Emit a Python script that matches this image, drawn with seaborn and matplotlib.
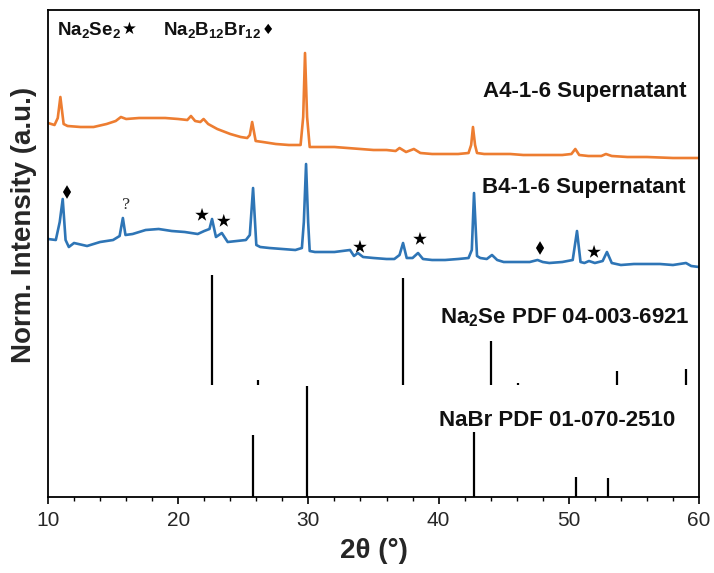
import numpy as np
import pandas as pd
import matplotlib
matplotlib.use("Agg")
import matplotlib.pyplot as plt
import seaborn as sns

# ---------------- data ----------------
# A4-1-6 Supernatant (orange), 2theta and intensity (a.u.)
a4_2theta = [10.0, 10.5, 10.75, 10.95, 11.2, 11.5, 12.5, 13.5, 14.5, 15.2, 15.6, 16.0,
             17.0, 18.0, 19.0, 20.0, 20.7, 20.98, 21.3, 21.7, 21.95, 22.3, 23.0, 24.0,
             24.8, 25.3, 25.5, 25.68, 25.95, 26.5, 27.5, 28.5, 29.4, 29.6, 29.74, 29.9,
             30.1, 31.0, 32.0, 33.0, 34.0, 35.0, 36.0, 36.7, 37.0, 37.5, 38.1, 38.6,
             39.5, 40.5, 41.5, 42.3, 42.5, 42.64, 42.8, 42.95, 43.5, 44.5, 45.5, 46.5,
             47.5, 48.5, 49.5, 50.2, 50.5, 50.8, 51.5, 52.5, 52.85, 53.3, 54.5, 56.0,
             58.0, 60.0]
a4_int = [374, 372, 379, 400, 373, 371, 370, 370, 373, 376, 380, 378,
          379, 379, 379, 378, 377, 381, 376, 375, 378, 373, 368, 363,
          360, 359, 362, 375, 356, 355, 353, 352, 352, 380, 444, 380,
          350, 350, 350, 349, 348, 347, 347, 346, 349, 345, 348, 344,
          343, 343, 343, 344, 352, 370, 352, 344, 343, 343, 343, 342,
          342, 342, 342, 343, 348, 342, 341, 341, 343, 341, 340, 340,
          339, 339]

# B4-1-6 Supernatant (blue)
b4_2theta = [10.0, 10.6, 10.9, 11.13, 11.35, 11.6, 12.0, 13.0, 14.0, 15.0, 15.5, 15.75,
             15.95, 16.5, 17.5, 18.5, 19.5, 20.5, 21.5, 22.0, 22.4, 22.6, 22.9, 23.35,
             23.8, 24.5, 25.2, 25.5, 25.75, 26.0, 26.3, 27.0, 28.0, 29.0, 29.5, 29.65,
             29.82, 29.98, 30.1, 30.5, 32.0, 33.2, 33.5, 33.8, 34.2, 35.0, 36.0, 36.6,
             37.0, 37.27, 37.55, 38.0, 38.42, 38.8, 39.5, 40.5, 41.5, 42.3, 42.55, 42.72,
             42.95, 43.2, 43.7, 44.1, 44.5, 45.0, 46.0, 47.0, 47.6, 48.0, 48.5, 49.5,
             50.3, 50.63, 50.9, 51.2, 51.55, 52.0, 52.6, 52.93, 53.3, 54.0, 55.0, 56.0,
             57.0, 58.0, 59.0, 59.4, 60.0]
b4_int = [258, 257, 275, 298, 257, 250, 254, 251, 255, 257, 261, 279,
          262, 263, 267, 268, 266, 265, 263, 266, 268, 278, 260, 264,
          255, 256, 257, 262, 309, 252, 250, 249, 248, 247, 249, 275,
          333, 275, 246, 245, 245, 247, 241, 244, 240, 239, 238, 238,
          242, 254, 239, 239, 244, 238, 237, 237, 238, 239, 247, 304,
          241, 239, 238, 242, 237, 235, 235, 235, 237, 235, 234, 235,
          237, 266, 235, 234, 236, 234, 236, 245, 234, 232, 233, 233,
          233, 232, 234, 231, 230]

# Reference patterns (relative intensity, %)
na2se_pos = [22.58, 26.1, 37.28, 44.0, 46.07, 53.74, 59.0]
na2se_rel = [100, 5, 97, 40, 2, 13, 15]
nabr_pos = [25.72, 29.86, 42.72, 50.57, 52.98]
nabr_rel = [56, 100, 59, 18, 17]

# Phase markers
star_pos = [21.83, 23.5, 33.96, 38.57, 51.94]
star_int = [282, 276, 250, 258, 245]
diamond_pos = [11.46, 47.79]
diamond_int = [305, 249]
unknown_pos = [15.99]
unknown_int = [292]

# Labels
a4_label = "A4-1-6 Supernatant"
b4_label = "B4-1-6 Supernatant"
na2se_label = r"Na$_2$Se PDF 04-003-6921"
nabr_label = "NaBr PDF 01-070-2510"
x_ticks = [10, 20, 30, 40, 50, 60]

# ---------------- style ----------------
sns.set_theme(style="white")
plt.rcParams["font.family"] = ["Liberation Sans", "DejaVu Sans"]
plt.rcParams["mathtext.fontset"] = "custom"
plt.rcParams["mathtext.rm"] = "Liberation Sans:bold"
plt.rcParams["mathtext.it"] = "Liberation Sans:bold"
plt.rcParams["mathtext.bf"] = "Liberation Sans:bold"

ORANGE = "#ED7D31"
BLUE = "#2E75B6"

fig = plt.figure(figsize=(7.14, 5.73), dpi=100)
ax = fig.add_axes([48 / 714, 1 - 497 / 573, (699 - 48) / 714, (497 - 10) / 573])

df_a = pd.DataFrame({"2theta": a4_2theta, "I": a4_int})
df_b = pd.DataFrame({"2theta": b4_2theta, "I": b4_int})
sns.lineplot(data=df_a, x="2theta", y="I", ax=ax, color=ORANGE, lw=1.9)
sns.lineplot(data=df_b, x="2theta", y="I", ax=ax, color=BLUE, lw=1.9)

# stick patterns
na2se_base, na2se_scale = 112, 1.10
nabr_base, nabr_scale = 0, 1.11
ax.vlines(na2se_pos, na2se_base, [na2se_base + r * na2se_scale for r in na2se_rel],
          color="black", lw=1.6)
ax.vlines(nabr_pos, nabr_base, [nabr_base + r * nabr_scale for r in nabr_rel],
          color="black", lw=1.6)

# markers
sns.scatterplot(x=star_pos, y=star_int, marker="*", s=105, color="black",
                edgecolor="none", ax=ax, zorder=5)
sns.scatterplot(x=diamond_pos, y=diamond_int, marker="d", s=48, color="black",
                edgecolor="none", ax=ax, zorder=5)
for xp, yp in zip(unknown_pos, unknown_int):
    ax.text(xp, yp, "?", fontsize=11, color="#333333", ha="center", va="center",
            family=["DejaVu Serif"])

# labels
lab_kw = dict(fontsize=16, fontweight="bold", color="#111111")
ax.text(59.06, 400, a4_label, ha="right", va="baseline", **lab_kw)
ax.text(59.0, 304, b4_label, ha="right", va="baseline", **lab_kw)
ax.text(40.09, 174, na2se_label, ha="left", va="baseline", **lab_kw)
ax.text(40.04, 71, nabr_label, ha="left", va="baseline", **lab_kw)

leg_kw = dict(fontsize=13.5, fontweight="bold", color="#111111", va="baseline", ha="left")
ax.text(10.67, 462, r"Na$_2$Se$_2$", **leg_kw)
ax.text(15.7, 463, "\u2605", fontsize=12, color="black", va="baseline", ha="left",
        family=["DejaVu Sans"])
ax.text(18.8, 462, r"Na$_2$B$_{12}$Br$_{12}$", **leg_kw)
ax.text(26.4, 463, "\u2666", fontsize=10, color="black", va="baseline", ha="left",
        family=["DejaVu Sans"])

# axes
ax.set_xlim(10, 60)
ax.set_ylim(0, 487)
ax.set_xticks(x_ticks)
ax.set_xticks(np.arange(10, 61, 2), minor=True)
ax.set_yticks([])
ax.tick_params(axis="x", which="major", direction="out", length=5, width=1.2,
               labelsize=15, pad=5, bottom=True, color="black")
ax.tick_params(axis="x", which="minor", direction="out", length=3, width=1.0,
               bottom=True, color="black")
for s in ax.spines.values():
    s.set_visible(True)
    s.set_color("black")
    s.set_linewidth(1.3)

ax.set_xlabel("2\u03b8 (\u00b0)", fontsize=20, fontweight="bold", labelpad=6)
ax.set_ylabel("Norm. Intensity (a.u.)", fontsize=20, fontweight="bold")
ax.yaxis.set_label_coords(-0.017, 0.558)

fig.savefig("out.png", dpi=100)
